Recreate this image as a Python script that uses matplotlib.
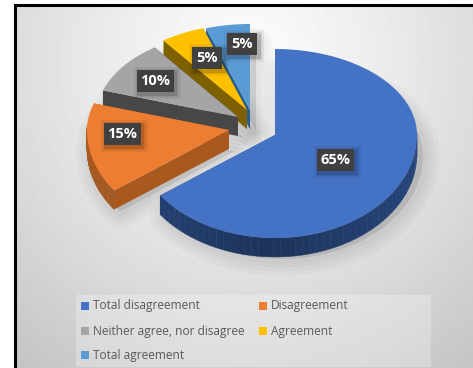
import numpy as np
import matplotlib
matplotlib.use('Agg')
import matplotlib.pyplot as plt
from matplotlib.patches import Polygon, Rectangle

categories = ['Total disagreement', 'Disagreement', 'Neither agree, nor disagree', 'Agreement', 'Total agreement']
values = [65, 15, 10, 5, 5]
top_colors = ['#4472c4', '#ed7d31', '#a5a5a5', '#ffc000', '#5b9bd5']
side_colors = ['#264478', '#a9591f', '#474747', '#7f6000', '#255e91']

# pie geometry in pixels
rx = 142
ry_up = 86
ry_down = 103
depth = 19
apex = [(275, 135), (229, 130), (238, 117), (247, 110), (250, 110)]


def rim(a0, a1, cx, cy, n=80):
    t = np.radians(np.linspace(a0, a1, n))
    c = np.cos(t)
    ry = np.where(c > 0, ry_up, ry_down)
    return cx + rx*np.sin(t), cy - ry*c


fig = plt.figure(figsize=(4.73, 3.68), dpi=100)
ax = fig.add_axes([0, 0, 1, 1])
ax.set_xlim(0, 473)
ax.set_ylim(368, 0)
ax.axis('off')

# background gradient, light near the top and grey in the corners
yy, xx = np.mgrid[0:368, 0:473]
d = np.sqrt(((xx-245)/330.0)**2 + ((yy-60)/340.0)**2)
bg = np.clip(0.99 - 0.19*d**1.2, 0, 1)
ax.imshow(bg, cmap='gray', vmin=0, vmax=1, extent=(0, 473, 368, 0), aspect='auto', zorder=0)

# soft shadow under the slices
shadow_shapes = []
angles = np.cumsum([0] + values)*3.6
for i in range(5):
    x, y = rim(angles[i], angles[i+1], apex[i][0], apex[i][1])
    shadow_shapes.append(np.column_stack([np.r_[apex[i][0], x], np.r_[apex[i][1], y]]))
for lw in [24, 18, 12, 7]:
    for s in shadow_shapes:
        ax.add_patch(Polygon(s + [6, depth+2], closed=True, fc='black', ec='black', lw=lw,
                             alpha=0.022, joinstyle='round', zorder=1))

# back slices first so the front ones sit over them
for i in [4, 3, 2, 1, 0]:
    cx, cy = apex[i]
    z = 2 + (4-i)*0.1
    a0, a1 = angles[i], angles[i+1]
    x, y = rim(a0, a1, cx, cy)
    # left cut face
    ax.add_patch(Polygon([(cx, cy), (x[-1], y[-1]), (x[-1], y[-1]+depth), (cx, cy+depth)],
                         fc=side_colors[i], ec='none', zorder=z))
    # edge facing the viewer on the orange slice
    ax.add_patch(Polygon([(cx, cy), (x[0], y[0]), (x[0], y[0]+depth), (cx, cy+depth)],
                         fc=side_colors[i], ec='none', zorder=z))
    # outer rim split into strips to get the shading along it
    for k in range(len(x)-1):
        if y[k] < cy-5:
            continue
        shade = 0.75 + 0.25*np.abs(np.sin(np.radians(a0 + (a1-a0)*k/len(x))))
        col = np.array(matplotlib.colors.to_rgb(side_colors[i]))*shade
        ax.add_patch(Polygon([(x[k], y[k]), (x[k+1], y[k+1]), (x[k+1], y[k+1]+depth), (x[k], y[k]+depth)],
                             fc=col, ec=col, lw=0.3, zorder=z))
    ax.add_patch(Polygon(np.column_stack([np.r_[cx, x], np.r_[cy, y]]), closed=True,
                         fc=top_colors[i], ec='none', zorder=z+0.05))

# value labels
label_pos = [(335, 160), (122, 134), (155, 81), (207, 58), (242, 44)]
for v, (lx, ly) in zip(values, label_pos):
    w = 37 if v >= 10 else 30
    for g, a in [(5, 0.05), (3, 0.08), (1.5, 0.12)]:
        ax.add_patch(Rectangle((lx-w/2-g+2, ly-11-g+2), w+2*g, 22+2*g, fc='black', alpha=a, ec='none', zorder=5))
    ax.add_patch(Rectangle((lx-w/2, ly-11), w, 22, fc='#404040', ec='none', zorder=5.1))
    ax.text(lx, ly, '%d%%' % v, color='white', fontsize=10.5, fontweight='bold', family='Open Sans',
            ha='center', va='center', zorder=6)

# legend
ax.add_patch(Rectangle((76, 295), 355, 72, fc='#ffffff', alpha=0.25, ec='none', zorder=3))
legend_pos = [(81, 306), (259, 306), (81, 331), (259, 331), (81, 355)]
for name, col, (lx, ly) in zip(categories, top_colors, legend_pos):
    ax.add_patch(Rectangle((lx, ly-4), 8, 7.5, fc=col, ec='none', zorder=4))
    ax.text(lx+12, ly, name, color='#595959', fontsize=8.6, family='Open Sans', va='center', zorder=4)

# frame
ax.add_patch(Rectangle((0, 0), 15, 368, fc='white', ec='none', zorder=7))
ax.plot([15, 15], [5, 368], color='black', lw=2.2, zorder=8)
ax.plot([15, 473], [5, 5], color='black', lw=2.2, zorder=8)
ax.add_patch(Rectangle((0, 0), 473, 4, fc='white', ec='none', zorder=7))

fig.savefig('out.png', dpi=100)
